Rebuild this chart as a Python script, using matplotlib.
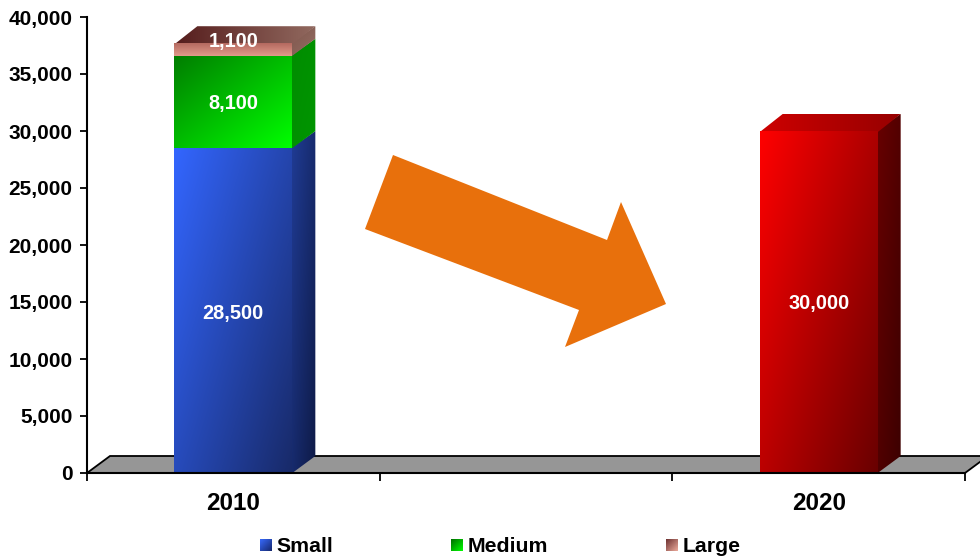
import matplotlib
matplotlib.use("Agg")
import numpy as np
import matplotlib.pyplot as plt
from matplotlib.patches import Polygon
from matplotlib.ticker import FuncFormatter

plt.rcParams['font.family'] = ['Liberation Sans', 'DejaVu Sans']
plt.rcParams['font.weight'] = 'bold'

# Chart data
categories = ["2010", "", "2020"]
series_names = ["Small", "Medium", "Large"]
small_2010 = 28500
medium_2010 = 8100
large_2010 = 1100
total_2020 = 30000
y_ticks = [0, 5000, 10000, 15000, 20000, 25000, 30000, 35000, 40000]

W, H = 980, 558
fig = plt.figure(figsize=(W / 100, H / 100), dpi=100)
ax = fig.add_axes([87 / W, 1 - 473 / H, (965 - 87) / W, (473 - 17) / H])
ax.patch.set_alpha(0)

X_MIN, X_MAX = -0.5, 2.5
Y_MAX = 40000
px_x = (X_MAX - X_MIN) / (965 - 87)   # data units per pixel, horizontally
px_y = Y_MAX / (473 - 17)             # data units per pixel, vertically
DX, DY = 23 * px_x, 17 * px_y         # depth of the pseudo-3D extrusion
BAR_W = 118 * px_x


def shaded(poly, start, end, zorder, wx=0.5, wy=0.5):
    """Fill a polygon with a linear gradient from its upper left to its lower right."""
    poly = np.asarray(poly)
    x0, x1 = poly[:, 0].min(), poly[:, 0].max()
    y0, y1 = poly[:, 1].min(), poly[:, 1].max()
    u, v = np.meshgrid(np.linspace(0, 1, 128), np.linspace(0, 1, 128))
    t = (wx * u + wy * v)[..., None]
    rgb = ((1 - t) * np.array(start) + t * np.array(end)) / 255
    im = ax.imshow(rgb, extent=(x0, x1, y0, y1), origin='upper', aspect='auto',
                   zorder=zorder, interpolation='bilinear')
    im.set_clip_path(Polygon(poly, closed=True, transform=ax.transData))


def box_segment(x, lo, hi, front, side, top=None):
    l, r = x - BAR_W / 2, x + BAR_W / 2
    # Side and top faces run slightly under the front face so no seam shows
    under = 1.5 * px_x
    shaded([(r - under, lo), (r, lo), (r + DX, lo + DY), (r + DX, hi + DY), (r - under, hi)],
           side[0], side[1], 3)
    if top is not None:
        shaded([(l, hi - 100), (r, hi - 100), (r + DX, hi + DY), (l + DX, hi + DY)],
               top[0], top[1], 3, 1.0, 0.0)
    shaded([(l, lo), (r, lo), (r, hi), (l, hi)], front[0], front[1], 3.1, *front[2:])


# Grey floor plane
floor = Polygon([(X_MIN, 0), (X_MIN + DX, DY), (X_MAX + DX, DY), (X_MAX, 0)], closed=True,
                facecolor='#969696', edgecolor='black', linewidth=1.3, zorder=2, clip_on=False)
ax.add_patch(floor)

# Stacked column for 2010
x1 = categories.index("2010")
b1 = small_2010
b2 = b1 + medium_2010
b3 = b2 + large_2010
box_segment(x1, 0, b1, ((51, 102, 255), (24, 42, 105), 0.55, 0.45), ((32, 60, 150), (14, 26, 70)))
box_segment(x1, b1, b2, ((0, 125, 0), (0, 255, 0), 0.5, 0.5), ((0, 140, 0), (0, 150, 0)))
box_segment(x1, b2, b3, ((180, 105, 95), (225, 155, 140), 0.0, 1.0), ((125, 85, 75), (150, 110, 100)),
            top=((85, 28, 28), (145, 105, 95)))

# Single column for 2020
x2 = categories.index("2020")
box_segment(x2, 0, total_2020, ((255, 0, 0), (105, 0, 0), 0.55, 0.45), ((105, 0, 0), (60, 0, 0)),
            top=((205, 0, 0), (150, 0, 0)))

# Value labels
label_style = dict(color='white', fontsize=14.4, fontweight='bold', ha='center', va='center', zorder=6)
ax.annotate(f"{small_2010:,}", (x1, b1 / 2), xytext=(0, -2.5), textcoords='offset pixels', **label_style)
ax.annotate(f"{medium_2010:,}", (x1, (b1 + b2) / 2), xytext=(0, -1.5), textcoords='offset pixels', **label_style)
ax.annotate(f"{large_2010:,}", (x1, (b2 + b3) / 2), xytext=(0, 8), textcoords='offset pixels', **label_style)
ax.annotate(f"{total_2020:,}", (x2, total_2020 / 2), xytext=(0, -2), textcoords='offset pixels', **label_style)

# Axes
ax.set_xlim(X_MIN, X_MAX)
ax.set_ylim(0, Y_MAX)
for side_name in ('top', 'right'):
    ax.spines[side_name].set_visible(False)
for side_name in ('left', 'bottom'):
    ax.spines[side_name].set_linewidth(1.5)
    ax.spines[side_name].set_zorder(5)
ax.set_yticks(y_ticks)
ax.yaxis.set_major_formatter(FuncFormatter(lambda v, _: f"{int(v):,}"))
ax.tick_params(axis='y', length=5, width=1.3, labelsize=15, pad=5.5)
ax.set_xticks(np.arange(len(categories) + 1) - 0.5)
ax.set_xticklabels([])
ax.tick_params(axis='x', length=6, width=1.3)
for pos, name in enumerate(categories):
    ax.annotate(name, (pos, 0), xytext=(0, -31), textcoords='offset pixels',
                ha='center', va='center', fontsize=17.5, fontweight='bold', color='black')

# Orange trend arrow
arrow_px = [(393, 155), (607, 240), (621, 202), (666, 304), (565, 347), (579, 310), (365, 229)]
fig.add_artist(Polygon([(x / W, 1 - y / H) for x, y in arrow_px], closed=True,
                       facecolor='#E8700C', edgecolor='none', transform=fig.transFigure, zorder=7))

# Legend with gradient swatches
swatches = [((55, 105, 250), (22, 40, 110)), ((0, 110, 0), (0, 255, 0)), ((110, 50, 50), (235, 170, 155))]
swatch_x = [260, 451, 666]
for name, (c0, c1), sx in zip(series_names, swatches, swatch_x):
    sw = fig.add_axes([sx / W, 1 - 551 / H, 12 / W, 12 / H])
    u, v = np.meshgrid(np.linspace(0, 1, 24), np.linspace(0, 1, 24))
    t = ((u + v) / 2)[..., None]
    sw.imshow(((1 - t) * np.array(c0) + t * np.array(c1)) / 255, aspect='auto', interpolation='bilinear')
    sw.axis('off')
    fig.text((sx + 16.5) / W, 1 - 546 / H, name, fontsize=15.3, fontweight='bold', ha='left', va='center')

fig.savefig("out.png", dpi=100)
